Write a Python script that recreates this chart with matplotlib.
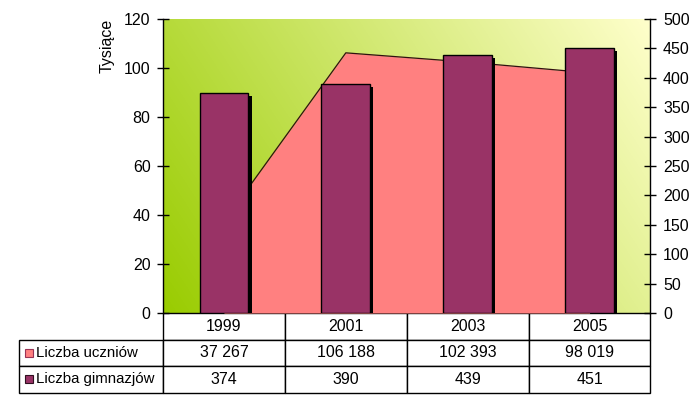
import numpy as np
import matplotlib
matplotlib.use("Agg")
import matplotlib.pyplot as plt
from matplotlib.patches import Rectangle
from matplotlib import patheffects as pe
from matplotlib.colors import to_rgb
from matplotlib.table import Table

# ---- data ----
years = ["1999", "2001", "2003", "2005"]
uczniowie = [37267, 106188, 102393, 98019]          # Liczba uczniów
gimnazja = [374, 390, 439, 451]                       # Liczba gimnazjów
uczniowie_text = ["37 267", "106 188", "102 393", "98 019"]
gimnazja_text = ["374", "390", "439", "451"]
series_names = ["Liczba uczniów", "Liczba gimnazjów"]
left_ticks = [0, 20, 40, 60, 80, 100, 120]
right_ticks = [0, 50, 100, 150, 200, 250, 300, 350, 400, 450, 500]

plt.rcParams['font.family'] = ['Liberation Sans', 'DejaVu Sans']
FS = 11.5

W, H = 695, 399
fig = plt.figure(figsize=(W / 100, H / 100), dpi=100)
fig.patch.set_facecolor('white')

L, R, T, B = 163, 650.5, 19, 313
ax = fig.add_axes([L / W, 1 - B / H, (R - L) / W, (B - T) / H])
x = np.arange(len(years))
ax.set_xlim(-0.5, len(years) - 0.5)
ax.set_ylim(0, 120)

# gradient background
c0 = np.array(to_rgb('#99CC00'))
c1 = np.array(to_rgb('#FFFFCC'))
u = np.linspace(0, 1, 300)[None, :]
v = np.linspace(0, 1, 200)[:, None]
t = np.clip(0.72 * u + 0.28 * v, 0, 1)
img = c0[None, None, :] * (1 - t[..., None]) + c1[None, None, :] * t[..., None]
ax.imshow(img, extent=[-0.5, len(years) - 0.5, 0, 120], origin='lower',
          aspect='auto', zorder=0, interpolation='bilinear')

# area
vals_k = np.array(uczniowie) / 1000.0
ax.fill_between(x, 0, vals_k, color='#FF8080', lw=0, zorder=1)
ax.plot(x, vals_k, color='#301010', lw=0.9, zorder=2)

ax.set_yticks(left_ticks)
ax.set_xticks([])
ax.tick_params(axis='y', direction='inout', length=8, width=1, pad=5,
               labelsize=FS, colors='black')
for s in ['top', 'bottom', 'right']:
    ax.spines[s].set_visible(False)
ax.spines['left'].set_linewidth(1)
ax.text(-0.114, 1.0, 'Tysiące', rotation=90, ha='center', va='top',
        transform=ax.transAxes, fontsize=FS)

# bars on right axis
ax2 = ax.twinx()
ax2.set_ylim(0, 500)
ax2.set_xlim(-0.5, len(years) - 0.5)
bars = ax2.bar(x, gimnazja, width=0.4, color='#993366', edgecolor='black',
               linewidth=1, zorder=3)
for b in bars:
    b.set_path_effects([pe.SimplePatchShadow(offset=(2.3, -2.3),
                                             shadow_rgbFace='black', alpha=1.0),
                        pe.Normal()])
ax2.set_yticks(right_ticks)
ax2.tick_params(axis='y', direction='inout', length=8, width=1, pad=5,
                labelsize=FS, colors='black')
for s in ['top', 'bottom', 'left']:
    ax2.spines[s].set_visible(False)
ax2.spines['right'].set_linewidth(1)

# data table: widths/heights given in axes units so the bbox needs no scaling
TL, TB = 18.5, 392.5
lab_w = (L - TL) / (R - L)
col_w = 1.0 / len(years)
tab_h = (TB - B) / (B - T)
rh = tab_h / 3
tab = Table(ax, bbox=[0, -tab_h, 1, tab_h])
rows_text = [uczniowie_text, gimnazja_text]
label_cells = []
for j, yr in enumerate(years):
    tab.add_cell(0, j, width=col_w, height=rh, text=yr, loc='center')
for i, (name, rt) in enumerate(zip(series_names, rows_text)):
    c = tab.add_cell(i + 1, -1, width=lab_w, height=rh, text=name, loc='left')
    c.PAD = (36 - TL) / (L - TL)
    label_cells.append(c)
    for j, s in enumerate(rt):
        tab.add_cell(i + 1, j, width=col_w, height=rh, text=s, loc='center')
tab.auto_set_font_size(False)
tab.set_fontsize(FS)
for c in label_cells:
    c.get_text().set_fontsize(10.8)
for key, cell in tab.get_celld().items():
    cell.set_linewidth(1)
    cell.set_edgecolor('black')
    cell.set_facecolor('white')
ax.add_table(tab)

# legend keys inside table row labels
row_h = (TB - B) / 3
key_colors = ['#FF8080', '#993366']
key_edges = ['#993355', '#301020']
for i, (fc, ec) in enumerate(zip(key_colors, key_edges)):
    yc = B + row_h * (i + 1.5)
    fig.add_artist(Rectangle((25 / W, 1 - (yc + 4) / H), 8 / W, 8 / H,
                             transform=fig.transFigure, facecolor=fc,
                             edgecolor=ec, linewidth=0.8))

fig.savefig('out.png', dpi=100)
